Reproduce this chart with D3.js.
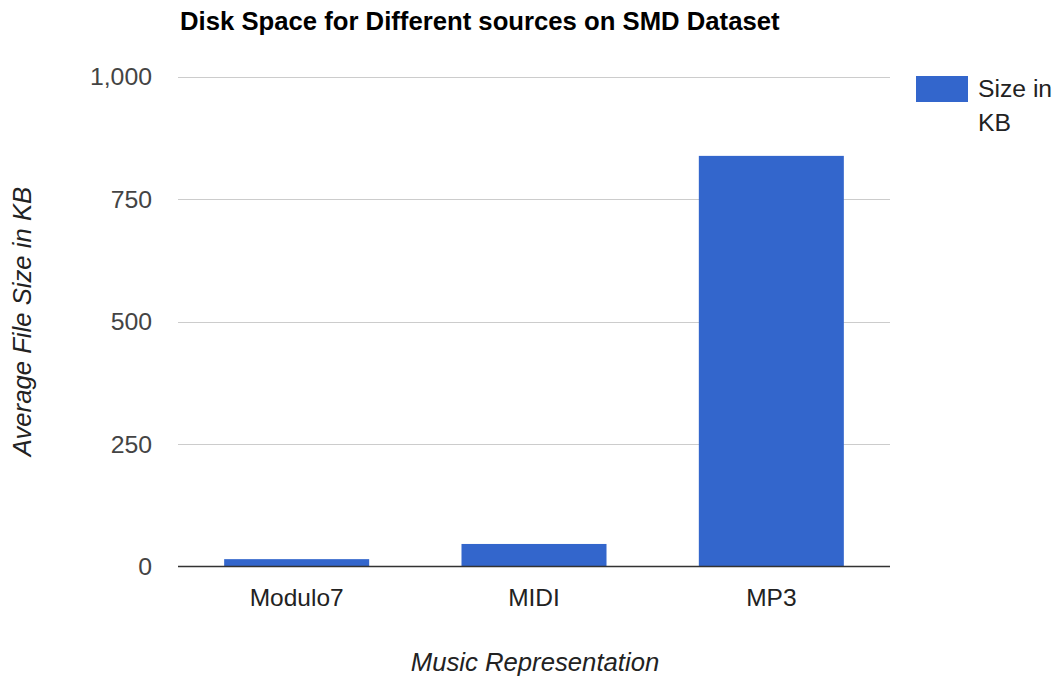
<!DOCTYPE html>
<html>
<head>
<meta charset="utf-8">
<script src="https://cdn.jsdelivr.net/npm/d3@7"></script>
<style>
  html, body { margin: 0; padding: 0; background: #fff; }
  svg { display: block; font-family: "Liberation Sans", Arial, sans-serif; }
</style>
</head>
<body>
<svg id="chart" width="1060" height="677"></svg>
<script>
const categories = ["Modulo7", "MIDI", "MP3"];
const values = [15, 46, 838];
const yTicks = [0, 250, 500, 750, 1000];
const seriesName = ["Size in", "KB"];
const chartTitle = "Disk Space for Different sources on SMD Dataset";
const xTitle = "Music Representation";
const yTitle = "Average File Size in KB";

const svg = d3.select("#chart");
const plot = { left: 178, right: 890, top: 76.5, bottom: 566.5 };

const x = d3.scaleBand()
  .domain(categories)
  .range([plot.left, plot.right])
  .paddingInner(0.389)
  .paddingOuter(0.1945);

const y = d3.scaleLinear()
  .domain([0, 1000])
  .range([plot.bottom, plot.top]);

// gridlines
svg.append("g")
  .selectAll("line")
  .data(yTicks.filter(d => d !== 0))
  .join("line")
  .attr("x1", plot.left)
  .attr("x2", plot.right)
  .attr("y1", d => Math.round(y(d)) + 0.5)
  .attr("y2", d => Math.round(y(d)) + 0.5)
  .attr("stroke", "#cccccc")
  .attr("stroke-width", 1);

// y tick labels
const fmt = d3.format(",");
svg.append("g")
  .selectAll("text")
  .data(yTicks)
  .join("text")
  .attr("x", 152)
  .attr("y", d => y(d))
  .attr("dy", "0.35em")
  .attr("text-anchor", "end")
  .attr("font-size", 24.8)
  .attr("fill", "#444")
  .text(d => fmt(d));

// bars
svg.append("g")
  .selectAll("rect")
  .data(values)
  .join("rect")
  .attr("x", (d, i) => x(categories[i]))
  .attr("width", x.bandwidth())
  .attr("y", d => y(d))
  .attr("height", d => y(0) - y(d))
  .attr("fill", "#3366cc");

// baseline
svg.append("line")
  .attr("x1", plot.left)
  .attr("x2", plot.right)
  .attr("y1", y(0))
  .attr("y2", y(0))
  .attr("stroke", "#333")
  .attr("stroke-width", 1.5);

// x category labels
svg.append("g")
  .selectAll("text")
  .data(categories)
  .join("text")
  .attr("x", d => x(d) + x.bandwidth() / 2)
  .attr("y", 606)
  .attr("text-anchor", "middle")
  .attr("font-size", 24.5)
  .attr("fill", "#222")
  .text(d => d);

// title
svg.append("text")
  .attr("x", 180)
  .attr("y", 29.5)
  .attr("font-size", 25.7)
  .attr("font-weight", "bold")
  .attr("fill", "#000")
  .text(chartTitle);

// x axis title
svg.append("text")
  .attr("x", (plot.left + plot.right) / 2 + 1)
  .attr("y", 671)
  .attr("text-anchor", "middle")
  .attr("font-size", 25.7)
  .attr("font-style", "italic")
  .attr("fill", "#222")
  .text(xTitle);

// y axis title
svg.append("text")
  .attr("transform", `translate(31,${(plot.top + plot.bottom) / 2}) rotate(-90)`)
  .attr("text-anchor", "middle")
  .attr("font-size", 25.7)
  .attr("font-style", "italic")
  .attr("fill", "#222")
  .text(yTitle);

// legend
const legend = svg.append("g");
legend.append("rect")
  .attr("x", 916)
  .attr("y", 76)
  .attr("width", 52)
  .attr("height", 26)
  .attr("fill", "#3366cc");
legend.selectAll("text")
  .data(seriesName)
  .join("text")
  .attr("x", 978)
  .attr("y", (d, i) => 97 + i * 34)
  .attr("font-size", 24.7)
  .attr("fill", "#222")
  .text(d => d);
</script>
</body>
</html>
